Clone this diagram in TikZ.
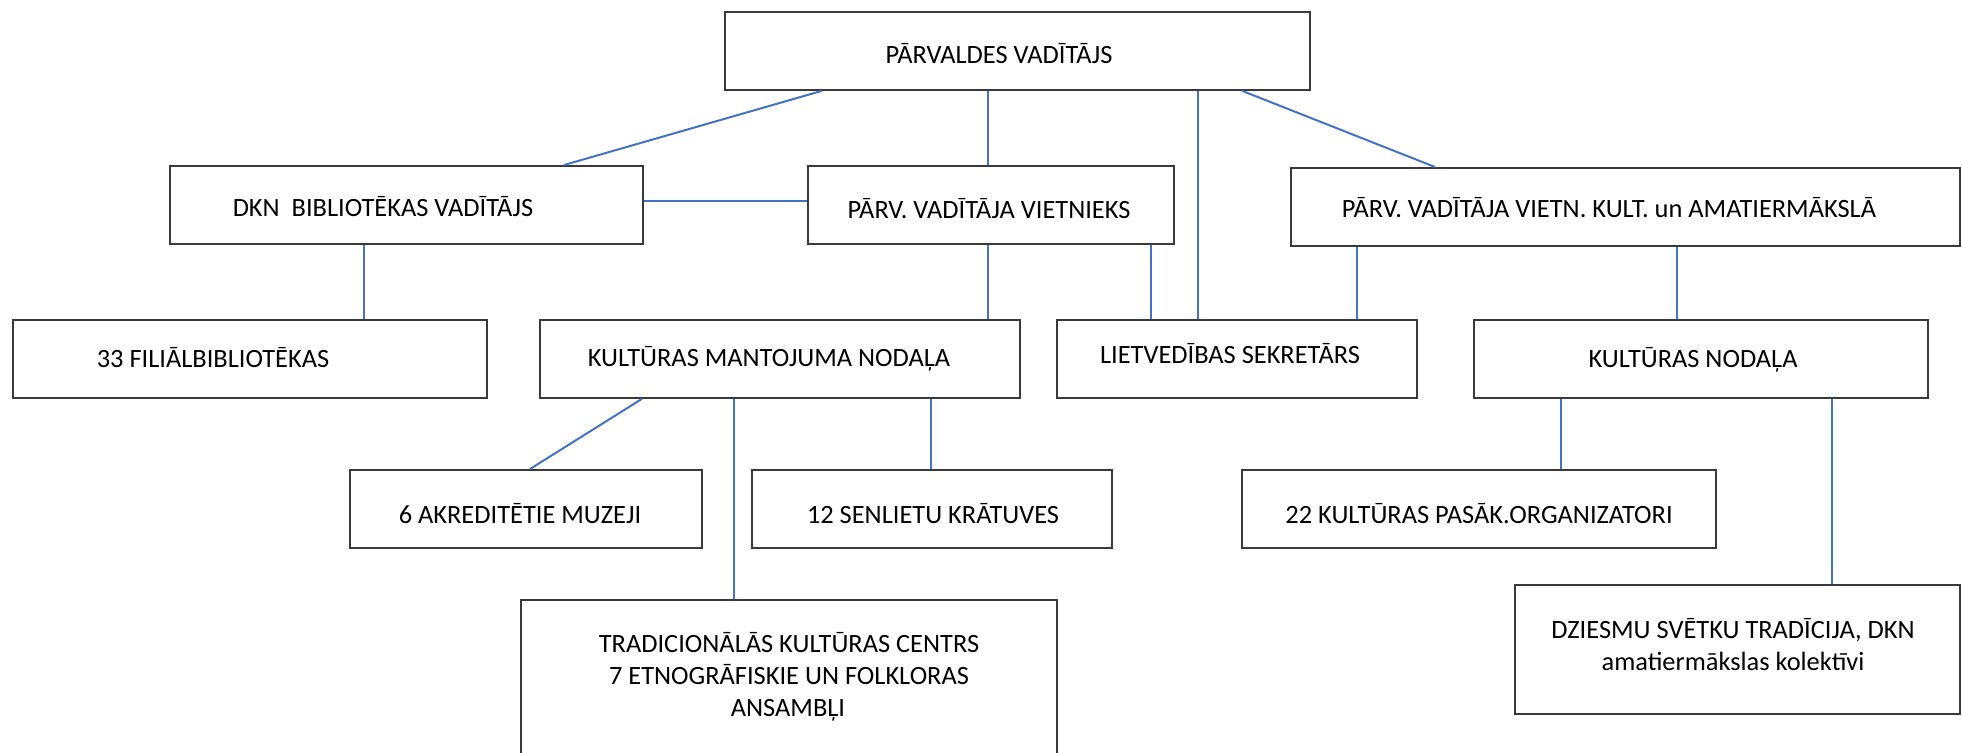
\documentclass[tikz,border=0pt]{standalone}
\usepackage{fontspec}
\setmainfont{Carlito}
\definecolor{linkblue}{HTML}{4472C4}
\definecolor{boxline}{HTML}{3A3A3A}
\begin{document}
\begin{tikzpicture}[x=0.5pt,y=-0.5pt,
  orgbox/.style={draw=boxline,line width=0.9pt,fill=white,rectangle,inner sep=0pt,anchor=north west},
  lbl/.style={font=\fontsize{13.2pt}{16.2pt}\selectfont,inner sep=0pt,anchor=base,align=center},
  link/.style={draw=linkblue,line width=1pt}]
\clip (0,0) rectangle (1962,752);
\fill[white] (0,0) rectangle (1962,752);
% boxes
\node[orgbox,minimum width=292.5pt,minimum height=39pt] (top) at (724,11) {};
\node[orgbox,minimum width=236.5pt,minimum height=39pt] (dkn) at (169,165) {};
\node[orgbox,minimum width=183pt,minimum height=39pt] (viet) at (807,165) {};
\node[orgbox,minimum width=334.5pt,minimum height=39pt] (kult) at (1290,167) {};
\node[orgbox,minimum width=237pt,minimum height=39pt] (fil) at (12,319) {};
\node[orgbox,minimum width=240pt,minimum height=39pt] (kmn) at (539,319) {};
\node[orgbox,minimum width=180pt,minimum height=39pt] (liet) at (1056,319) {};
\node[orgbox,minimum width=227pt,minimum height=39pt] (kn) at (1473,319) {};
\node[orgbox,minimum width=176pt,minimum height=39pt] (muz) at (349,469) {};
\node[orgbox,minimum width=180pt,minimum height=39pt] (sen) at (751,469) {};
\node[orgbox,minimum width=268pt,minimum height=100pt] (trad) at (520,599) {};
\node[orgbox,minimum width=237pt,minimum height=39pt] (org) at (1241,469) {};
\node[orgbox,minimum width=222.5pt,minimum height=64.5pt] (dz) at (1514,584) {};
% texts
\node[lbl] (ttop) at (999,63) {PĀRVALDES VADĪTĀJS};
\node[lbl] (tdkn) at (383,216) {DKN\ \ BIBLIOTĒKAS VADĪTĀJS};
\node[lbl] (tviet) at (989,218) {PĀRV. VADĪTĀJA VIETNIEKS};
\node[lbl] (tkult) at (1609,217) {PĀRV. VADĪTĀJA VIETN. KULT. un AMATIERMĀKSLĀ};
\node[lbl] (tfil) at (213,367) {33 FILIĀLBIBLIOTĒKAS};
\node[lbl] (tkmn) at (769,366) {KULTŪRAS MANTOJUMA NODAĻA};
\node[lbl] (tliet) at (1230,363) {LIETVEDĪBAS SEKRETĀRS};
\node[lbl] (tkn) at (1693,367) {KULTŪRAS NODAĻA};
\node[lbl] (tmuz) at (520,523) {6 AKREDITĒTIE MUZEJI};
\node[lbl] (tsen) at (933,523) {12 SENLIETU KRĀTUVES};
\node[lbl] (torg) at (1479,523) {22 KULTŪRAS PASĀK.ORGANIZATORI};
\node[lbl] (ttrad1) at (789,652) {TRADICIONĀLĀS KULTŪRAS CENTRS};
\node[lbl] (ttrad2) at (789,684) {7 ETNOGRĀFISKIE UN FOLKLORAS};
\node[lbl] (ttrad3) at (788,716) {ANSAMBĻI};
\node[lbl] (tdz1) at (1733,638) {DZIESMU SVĒTKU TRADĪCIJA, DKN};
\node[lbl] (tdz2) at (1733,670) {amatiermākslas kolektīvi};
% connectors
\draw[link] (822,0 |- top.south) -- (564,0 |- dkn.north);
\draw[link] (988,0 |- top.south) -- (988,0 |- viet.north);
\draw[link] (1198,0 |- top.south) -- (1198,0 |- liet.north);
\draw[link] (1242,0 |- top.south) -- (1435,0 |- kult.north);
\draw[link] (dkn.east |- 0,201) -- (viet.west |- 0,201);
\draw[link] (364,0 |- dkn.south) -- (364,0 |- fil.north);
\draw[link] (988,0 |- viet.south) -- (988,0 |- kmn.north);
\draw[link] (1151,0 |- viet.south) -- (1151,0 |- liet.north);
\draw[link] (1357,0 |- kult.south) -- (1357,0 |- liet.north);
\draw[link] (1677,0 |- kult.south) -- (1677,0 |- kn.north);
\draw[link] (642,0 |- kmn.south) -- (530,0 |- muz.north);
\draw[link] (734,0 |- kmn.south) -- (734,0 |- trad.north);
\draw[link] (931,0 |- kmn.south) -- (931,0 |- sen.north);
\draw[link] (1561,0 |- kn.south) -- (1561,0 |- org.north);
\draw[link] (1832,0 |- kn.south) -- (1832,0 |- dz.north);
\end{tikzpicture}
\end{document}
